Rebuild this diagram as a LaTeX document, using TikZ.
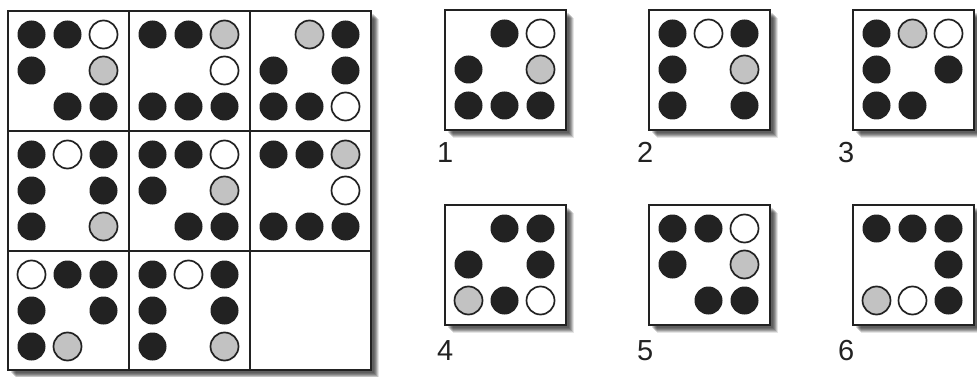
\documentclass[tikz,border=0pt]{standalone}
\usepackage{fontspec}
\setmainfont{Liberation Sans}
\definecolor{ink}{HTML}{222222}
\definecolor{dotgray}{HTML}{C2C2C2}
\tikzset{
  dotB/.style={fill=ink},
  dotG/.style={fill=dotgray,draw=ink,line width=1.7pt},
  dotW/.style={fill=white,draw=ink,line width=1.7pt},
  dotN/.style={},
  frame/.style={draw=ink,line width=2.8pt,fill=white},
  gridline/.style={draw=ink,line width=2.8pt},
  lab/.style={font=\fontsize{29}{31}\selectfont,text=ink,inner sep=0pt,anchor=base west}
}
\newcommand\shadowbox[4]{%
  \foreach \k/\o in {3/0.14,4/0.16,5/0.18,6/0.18,7/0.15,8/0.10}{
    \fill[black,opacity=\o] (#1+\k,#2+\k) rectangle (#3+\k,#4+\k);
  }}
\newcommand\dotpat[3]{%
  \foreach \c [count=\i from 0] in {#3}{
    \pgfmathtruncatemacro\dcol{mod(\i,3)}
    \pgfmathtruncatemacro\drow{div(\i,3)}
    \path[dot\c] ({#1+23.5+36*\dcol},{#2+23.5+36*\drow}) circle (14pt);
  }}
\newcommand\answer[3]{%
  \shadowbox{#1}{#2}{#1+121}{#2+120}
  \path[frame] (#1,#2) rectangle (#1+121,#2+120);
  \dotpat{#1}{#2}{#3}}
\begin{document}
\begin{tikzpicture}[x=1pt,y=-1pt]
\useasboundingbox (0,0) rectangle (977,377);
% main matrix
\shadowbox{8}{11}{371}{370}
\path[frame] (8,11) rectangle (371,370);
\dotpat{8}{11}{B,B,W,B,N,G,N,B,B}
\dotpat{129}{11}{B,B,G,N,N,W,B,B,B}
\dotpat{250}{11}{N,G,B,B,N,B,B,B,W}
\dotpat{8}{131}{B,W,B,B,N,B,B,N,G}
\dotpat{129}{131}{B,B,W,B,N,G,N,B,B}
\dotpat{250}{131}{B,B,G,N,N,W,B,B,B}
\dotpat{8}{251}{W,B,B,B,N,B,B,G,N}
\dotpat{129}{251}{B,W,B,B,N,B,B,N,G}
\draw[gridline] (129,11) -- (129,370);
\draw[gridline] (250,11) -- (250,370);
\draw[gridline] (8,131) -- (371,131);
\draw[gridline] (8,251) -- (371,251);
\draw[frame,fill=none] (8,11) rectangle (371,370);
% answers
\answer{445}{10}{N,B,W,B,N,G,B,B,B}
\answer{649}{10}{B,W,B,B,N,G,B,N,B}
\answer{853}{10}{B,G,W,B,N,B,B,B,N}
\answer{445}{205}{N,B,B,B,N,B,G,B,W}
\answer{649}{205}{B,B,W,B,N,G,N,B,B}
\answer{853}{205}{B,B,B,N,N,B,G,W,B}
\node[lab] (l1) at (437,162) {1};
\node[lab] (l2) at (637,162) {2};
\node[lab] (l3) at (838,162) {3};
\node[lab] (l4) at (437,360) {4};
\node[lab] (l5) at (637,360) {5};
\node[lab] (l6) at (838,360) {6};
\end{tikzpicture}
\end{document}
